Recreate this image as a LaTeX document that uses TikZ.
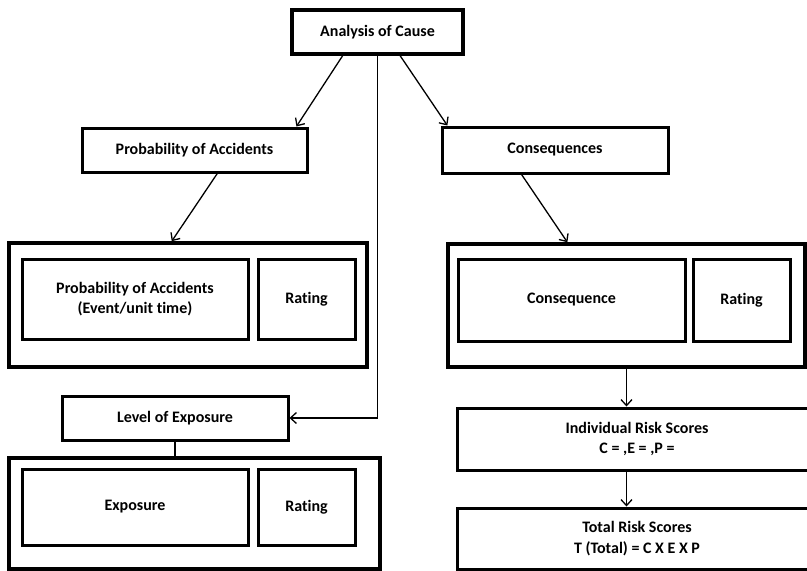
\documentclass[tikz,border=0pt]{standalone}
\usepackage{fontspec}
\setmainfont[Ligatures=NoCommon]{Carlito}
\usetikzlibrary{arrows.meta,calc}
\begin{document}
\begin{tikzpicture}[x=1pt,y=-1pt,
  box/.style={draw=black,line width=3pt,fill=none,inner sep=0pt,align=center,
    font=\bfseries\fontsize{16}{20.5}\selectfont},
  frame/.style={draw=black,line width=3.6pt,inner sep=0pt},
  link/.style={draw=black,line width=1.3pt,-{Straight Barb[length=6pt,width=11pt,line width=1.3pt]}},
  plain/.style={draw=black,line width=1.3pt}]
\useasboundingbox (0,0) rectangle (807,571);
\clip (0,0) rectangle (807,571);

% top level
\node[box,line width=3.6pt,minimum width=171pt,minimum height=44pt] (cause) at (377.5,32) {Analysis of Cause};
\node[box,minimum width=225pt,minimum height=44pt] (prob) at (194.5,150) {Probability of Accidents};
\node[box,minimum width=226pt,minimum height=46pt] (conseq) at (555,150) {Consequences};

% probability table
\node[frame,minimum width=358pt,minimum height=124pt] (probOuter) at (188,305) {};
\node[box,minimum width=226pt,minimum height=80pt] (probIn) at (135,299) {Probability of Accidents\\(Event/unit time)};
\node[box,minimum width=97pt,minimum height=80pt] (probRate) at (306.5,299) {Rating};

% exposure
\node[box,minimum width=226pt,minimum height=44pt] (expo) at (175,418) {Level of Exposure};
\node[frame,minimum width=371pt,minimum height=111pt] (expoOuter) at (194.5,513.5) {};
\node[box,minimum width=226pt,minimum height=76pt] (expoIn) at (135,507) {Exposure};
\node[box,minimum width=97pt,minimum height=76pt] (expoRate) at (306.5,507) {Rating};

% consequence table
\node[frame,minimum width=357pt,minimum height=123pt] (consOuter) at (626.5,305.5) {};
\node[box,minimum width=227pt,minimum height=82pt] (consIn) at (571.5,300) {Consequence};
\node[box,minimum width=97pt,minimum height=82pt] (consRate) at (741.5,300) {Rating};

% scores
\node[box,minimum width=360pt,minimum height=62pt] (indiv) at (637,439) {Individual Risk Scores\\C = ,E = ,P =};
\node[box,minimum width=360pt,minimum height=61pt] (total) at (637,538.5) {Total Risk Scores\\T (Total) = C X E X P};

% connectors
\draw[link] ($(cause.south west)!0.30!(cause.south east)$) -- ($(prob.north west)!0.947!(prob.north east)$);
\draw[link] ($(cause.south west)!0.63!(cause.south east)$) -- ($(conseq.north west)!0.03!(conseq.north east)$);
\draw[link] (cause.south) -- (cause.south |- expo.east) -- (expo.east);
\draw[link] ($(prob.south west)!0.60!(prob.south east)$) -- ($(probOuter.north west)!0.455!(probOuter.north east)$);
\draw[link] ($(conseq.south west)!0.354!(conseq.south east)$) -- ($(consOuter.north west)!0.336!(consOuter.north east)$);
\draw[link] (consOuter.south) -- (consOuter.south |- indiv.north);
\draw[link] (consOuter.south |- indiv.south) -- (consOuter.south |- total.north);
\draw[plain] (expo.south) -- (expo.south |- expoOuter.north);
\end{tikzpicture}
\end{document}
